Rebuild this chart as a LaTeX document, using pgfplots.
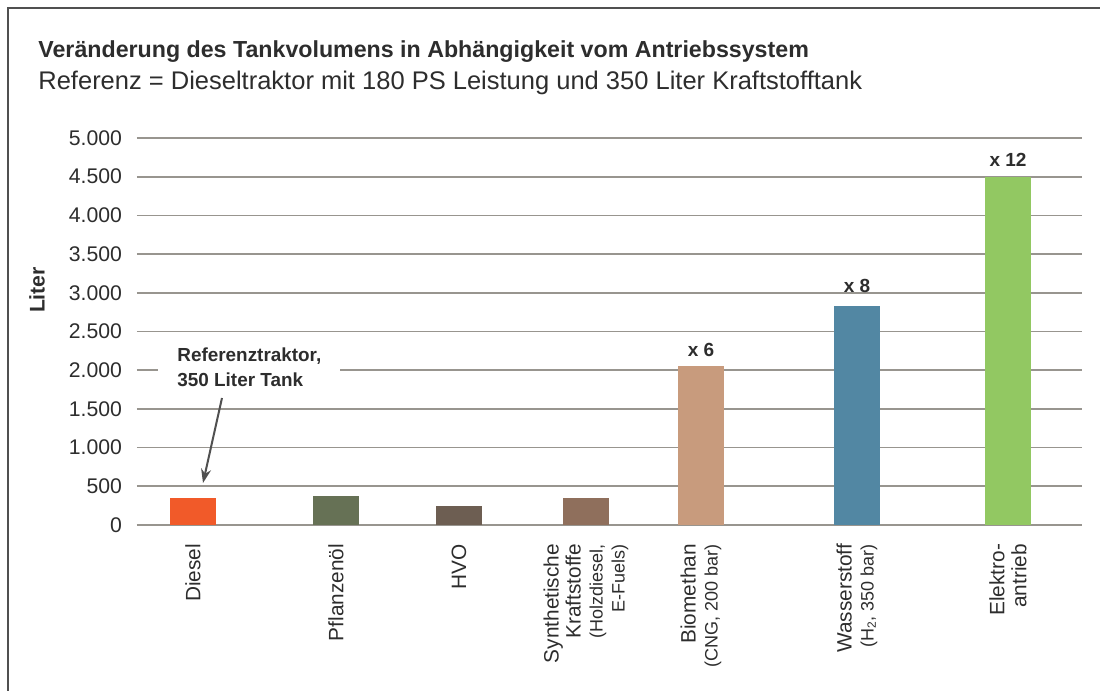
\documentclass[border=0pt]{standalone}
\usepackage{pgfplots}
\pgfplotsset{compat=1.18}
\usepackage{fontspec}
\setmainfont{Liberation Sans}
\usetikzlibrary{arrows.meta}

\definecolor{cDiesel}{RGB}{241,90,41}
\definecolor{cPflanz}{RGB}{102,113,85}
\definecolor{cHVO}{RGB}{109,94,82}
\definecolor{cSynth}{RGB}{143,111,92}
\definecolor{cBio}{RGB}{200,155,125}
\definecolor{cWasser}{RGB}{82,135,163}
\definecolor{cElektro}{RGB}{146,200,98}
\definecolor{gridgray}{RGB}{152,149,143}
\definecolor{txt}{RGB}{45,45,45}
\definecolor{frame}{RGB}{80,80,80}

\begin{document}
\begin{tikzpicture}[x=1pt,y=1pt]
% 1 px of the reference = 0.5pt
\path[use as bounding box] (0,0) rectangle (550,345.5);
\draw[frame, line width=0.8pt] (4,0) -- (4,341.5) -- (550,341.5);

\node[anchor=base west, inner sep=0, font=\fontsize{11.6}{14}\selectfont\bfseries, text=txt]
  at (19,316.5) {Veränderung des Tankvolumens in Abhängigkeit vom Antriebssystem};
\node[anchor=base west, inner sep=0, font=\fontsize{12.75}{14}\selectfont, text=txt]
  at (19,300.5) {Referenz = Dieseltraktor mit 180 PS Leistung und 350 Liter Kraftstofftank};
\node[rotate=90, font=\fontsize{10.6}{12}\selectfont\bfseries, text=txt]
  at (18.5,200.5) {Liter};

\begin{axis}[
    at={(68.5pt,83pt)}, anchor=south west,
    scale only axis,
    width=472.5pt, height=193.5pt,
    xmin=137, xmax=1082,
    ymin=0, ymax=5000,
    ytick={0,500,...,5000},
    xtick={193,336,459,586,701,857,1008},
    xticklabels={
      Diesel,
      Pflanzenöl,
      HVO,
      {Synthetische\\Kraftstoffe\\{\fontsize{9}{10.5}\selectfont(Holzdiesel,}\\{\fontsize{9}{10.5}\selectfont E-Fuels)}},
      {Biomethan\\{\fontsize{9}{10.5}\selectfont(CNG, 200 bar)}},
      {Wasserstoff\\{\fontsize{9}{10.5}\selectfont(H\textsubscript{2}, 350 bar)}},
      {Elektro-\\antrieb}},
    xticklabel style={rotate=90, anchor=east, align=right,
      font=\fontsize{10.4}{11}\selectfont, text=txt},
    xticklabel shift=6pt,
    yticklabel style={font=\fontsize{10.6}{12}\selectfont, text=txt},
    yticklabel shift=4pt,
    /pgf/number format/.cd, 1000 sep={.}, assume math mode=true, /pgfplots/.cd,
    scaled y ticks=false,
    major tick length=0pt,
    axis x line*=bottom,
    axis y line*=left,
    x axis line style={draw=gridgray, line width=0.8pt},
    y axis line style={draw=none},
    ymajorgrids,
    grid style={draw=gridgray, line width=0.8pt},
    ybar, bar width=23pt,
    every axis plot/.append style={bar shift=0pt, draw=none},
    clip=false,
]
\addplot[fill=cDiesel] coordinates {(193,350)};
\addplot[fill=cPflanz] coordinates {(336,375)};
\addplot[fill=cHVO] coordinates {(459,250)};
\addplot[fill=cSynth] coordinates {(586,350)};
\addplot[fill=cBio] coordinates {(701,2050)};
\addplot[fill=cWasser] coordinates {(857,2830)};
\addplot[fill=cElektro] coordinates {(1008,4500)};

\node[font=\fontsize{9.5}{11}\selectfont\bfseries, text=txt] at (axis cs:701,2261) {x 6};
\node[font=\fontsize{9.5}{11}\selectfont\bfseries, text=txt] at (axis cs:857,3088) {x 8};
\node[font=\fontsize{9.5}{11}\selectfont\bfseries, text=txt] at (axis cs:1008,4716) {x 12};

\node[anchor=west, fill=white, inner xsep=9.5pt, inner ysep=1pt, align=left,
      font=\fontsize{9.45}{12.5}\selectfont\bfseries, text=txt]
  at (axis cs:158,2041) {Referenztraktor,\\350 Liter Tank};
\draw[-{Stealth[length=7pt,width=5pt]}, draw=frame, line width=1pt]
  (axis cs:222,1641) -- (axis cs:203,543);
\end{axis}
\end{tikzpicture}
\end{document}
